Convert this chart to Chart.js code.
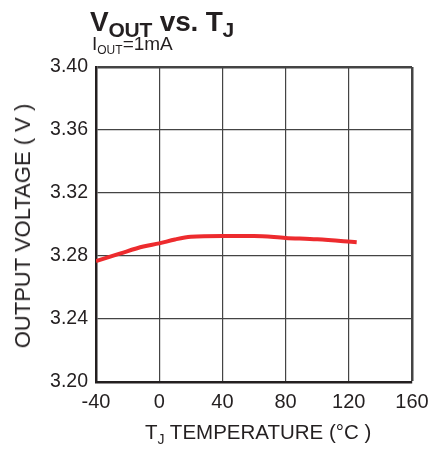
<!DOCTYPE html>
<html><head><meta charset="utf-8">
<script src="https://cdn.jsdelivr.net/npm/chart.js@4"></script>
<style>
html,body{margin:0;padding:0;background:#fff;}
#wrap{position:relative;width:439px;height:449px;font-family:"Liberation Sans",Arial,sans-serif;color:#231f20;}
canvas{position:absolute;left:0;top:0;}
.t{position:absolute;white-space:nowrap;}
#title{left:90px;top:6px;font-size:28px;font-weight:bold;letter-spacing:-0.2px;}
#title sub{font-size:21px;vertical-align:-6px;line-height:0;}
#sub{left:92px;top:33px;font-size:19px;}
#sub sub{font-size:12px;vertical-align:-4px;line-height:0;}
#xt{left:145px;top:420px;font-size:20.5px;}
#xt sub{font-size:14px;vertical-align:-5px;line-height:0;}
#yt{left:23px;top:226px;font-size:22px;transform:translate(-50%,-50%) rotate(-90deg);}
</style></head>
<body><div id="wrap">
<canvas id="c" width="439" height="449"></canvas>
<div class="t" id="title">V<sub>OUT</sub> vs. T<sub>J</sub></div>
<div class="t" id="sub">I<sub>OUT</sub>=1mA</div>
<div class="t" id="xt">T<sub>J</sub> TEMPERATURE (°C )</div>
<div class="t" id="yt">OUTPUT VOLTAGE ( V )</div>
</div>
<script>
const temps = [-40, -25, -10, 0, 10, 20, 40, 60, 80, 100, 125];
const vout = [3.2768, 3.2815, 3.2860, 3.2880, 3.2905, 3.2922, 3.2927, 3.2927, 3.2915, 3.2906, 3.2887];
const xTicks = [-40, 0, 40, 80, 120, 160];
const yTicks = [3.20, 3.24, 3.28, 3.32, 3.36, 3.40];

const frame = '#231f20';
new Chart(document.getElementById('c'), {
  type: 'line',
  data: { datasets: [{ data: temps.map((t,i)=>({x:t,y:vout[i]})), borderColor:'#ed2b2e', borderWidth:4, pointRadius:0, tension:0.3, cubicInterpolationMode:'monotone' }] },
  options: {
    responsive:false, animation:false, devicePixelRatio:1,
    layout:{ padding:{ top:67, right:27, left:0, bottom:0 } },
    plugins:{ legend:{display:false}, tooltip:{enabled:false} },
    scales:{
      x:{ type:'linear', min:-40, max:160,
        afterBuildTicks:s=>{ s.ticks = xTicks.map(v=>({value:v})); },
        afterFit:s=>{ s.height = 67; },
        grid:{ color:'#444', lineWidth:c=> (c.tick && c.tick.value===160)?2.5:1.2, drawTicks:false },
        border:{ color:frame, width:2.5 },
        ticks:{ color:frame, padding:8, font:{family:'"Liberation Sans", Arial', size:20}, maxRotation:0, callback:v=>String(v) } },
      y:{ type:'linear', min:3.20, max:3.40,
        afterBuildTicks:s=>{ s.ticks = yTicks.map(v=>({value:v})); },
        afterFit:s=>{ s.width = 96; },
        grid:{ color:'#444', lineWidth:c=> (c.tick && Math.abs(c.tick.value-3.40)<1e-9)?2.5:1.2, drawTicks:false },
        border:{ color:frame, width:2.5 },
        ticks:{ color:frame, padding:8, font:{family:'"Liberation Sans", Arial', size:19.5}, callback:v=>Number(v).toFixed(2) } }
    }
  }
});
</script>
</body></html>
